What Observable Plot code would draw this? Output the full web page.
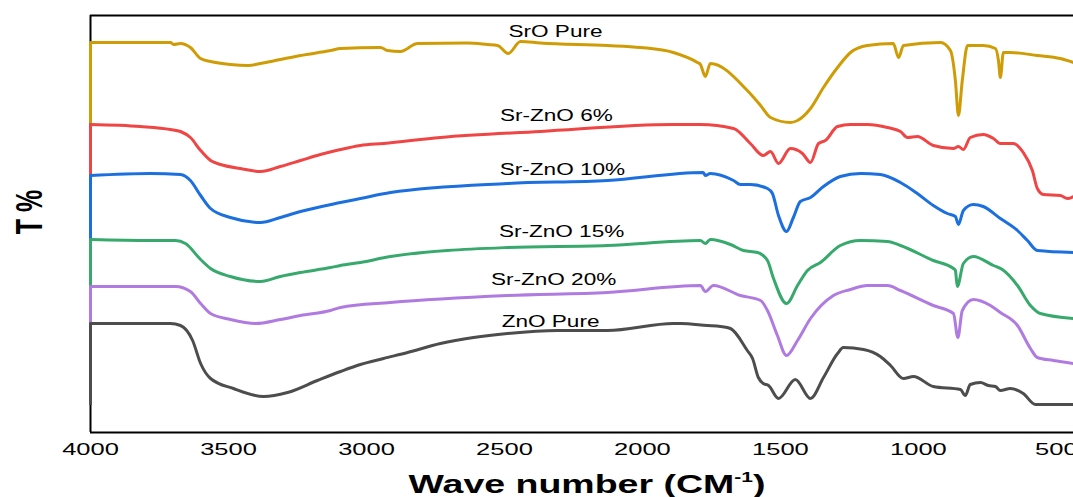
<!DOCTYPE html>
<html><head><meta charset="utf-8">
<script src="https://cdn.jsdelivr.net/npm/d3@7"></script>
<script src="https://cdn.jsdelivr.net/npm/@observablehq/plot@0.6"></script>
<style>body{margin:0;background:#fff;} #chart{width:1073px;height:497px;overflow:hidden;}</style>
</head><body><div id="chart"></div>
<script>
const seriesNames = ["SrO Pure", "Sr-ZnO 6%", "Sr-ZnO 10%", "Sr-ZnO 15%", "Sr-ZnO 20%", "ZnO Pure"];
const colors = ["#CF9C06", "#EF4545", "#1C6FDE", "#37A96C", "#B07BE0", "#4D4D4D"];
const xTicks = [4000, 3500, 3000, 2500, 2000, 1500, 1000, 500];

const sroWn = [4000,3710,3699,3674,3638,3601,3565,3493,3428,3384,3312,3239,3130,3094,2949,2924,2877,2815,2634,2562,2525,2486,2442,2370,2127,2007,1888,1801,1790,1772,1754,1620,1572,1536,1464,1438,1391,1344,1293,1246,1185,1091,1072,1054,920,884,866,855,841,822,765,721,710,703,692,667,569,486,438];
const sroT  = [390,390,388,389,385,374,371,368,367,369,373,377,382,384,385,382,381,389,389.5,388,387,379,391,389.5,387,385,380,370,368,356,369,342,327,315,310,312,324,345,365,380,387,389,375,387,390,382,352,317,352,387,387,384,372,355,380,380,377,374,370];

const sr6Wn = [4000,3819,3710,3674,3638,3601,3565,3529,3457,3384,3312,3239,3167,3094,3022,2938,2732,2370,1888,1790,1670,1609,1562,1536,1507,1464,1420,1391,1362,1337,1293,1246,1185,1112,1065,1040,1004,946,873,855,837,812,765,728,703,656,620,587,569,547,486,460,438];
const sr6T  = [308,306,303,301,295,282,272,268,264,261,266,272,278,283,287,289,295,301,308,308,304,289,277,281,269,284,279,270,289,292,306,308,308,305,301,295,296,287,284,286,283,295,298,294,289,289,280,262,244,238,237,234,236];

const sr10Wn = [4000,3783,3674,3638,3601,3565,3493,3384,3312,3239,3094,3022,2913,2489,2127,1780,1772,1754,1670,1645,1609,1547,1529,1507,1478,1453,1428,1391,1344,1283,1210,1138,1065,1004,946,895,866,855,837,801,765,703,641,605,569,438];
const sr10T  = [257,259,258,252,237,224,215,210,215,221,230,234,240,249,252,260,257,259,252,248,248,244,239,217,201,215,231,235,246,256,259,258,250,239,227,219,216,208,222,228,226,214,202,192,182,180];

const sr15Wn = [4000,3783,3692,3656,3601,3565,3493,3384,3312,3239,3130,3094,3022,2913,2489,2127,1790,1772,1754,1681,1634,1583,1547,1525,1478,1438,1402,1355,1283,1210,1112,1065,946,873,866,859,837,801,728,696,641,594,558,438];
const sr15T  = [193,192,192,189,173,164,156,151,156,160,165,167,170,176,185,187,192,189,193,188,182,180,172,154,129,147,162,170,187,192,191,187,172,164,162,146,169,176,167,163,147,127,119,114];

const sr20Wn = [4000,3783,3692,3638,3601,3565,3493,3402,3312,3239,3130,3094,2913,2489,2127,1790,1772,1743,1645,1572,1547,1511,1478,1438,1391,1308,1246,1185,1112,1065,946,873,857,841,801,739,703,641,594,569,511,438];
const sr20T  = [146,146,146,141,129,119,113,109,113,117,122,125,130,137,140,147,141,147,137,132,122,97,77,92,114,137,143,147,147,142,127,119,95,122,133,127,120,107,84,75,72,69];

const znoWn = [4000,3783,3710,3674,3630,3601,3565,3482,3373,3286,3178,3094,3022,2938,2851,2732,2612,2489,2308,2127,1888,1862,1765,1717,1681,1620,1601,1580,1562,1543,1507,1446,1391,1344,1293,1272,1199,1138,1101,1054,1018,946,848,830,812,775,747,721,703,667,620,576,438];
const znoT  = [109,109,109,107,92,69,54,44,36,40,52,61,68,74,80,89,95,99,102,102,109,109,107,106,104,82,74,55,49,47,34,53,34,55,79,85,83,76,67,54,56,46,43,37,48,50,47,46,42,44,39,28,28];

// value at the very first (4000 cm-1) reading where each trace starts from below
const startLow = [309, 227, 176, 112, 65, 27];

const labelWn = [2315, 2312, 2290, 2293, 2322, 2333];
const labelT  = [401, 317, 263, 201, 153, 111];

const wnArrays = [sroWn, sr6Wn, sr10Wn, sr15Wn, sr20Wn, znoWn];
const tArrays  = [sroT, sr6T, sr10T, sr15T, sr20T, znoT];

const rows = seriesNames.map((name, i) => wnArrays[i].map((w, j) => ({name, wn: w, t: tArrays[i][j]})));
const starts = seriesNames.map((name, i) => ({name, wn: wnArrays[i][0], t1: startLow[i], t2: tArrays[i][0]}));
const labels = seriesNames.map((name, i) => ({name, wn: labelWn[i], t: labelT[i]}));

const seriesMarks = seriesNames.flatMap((name, i) => [
  Plot.ruleX([starts[i]], {x: "wn", y1: "t1", y2: "t2", stroke: colors[i], strokeWidth: 3}),
  Plot.line(rows[i], {x: "wn", y: "t", stroke: colors[i], strokeWidth: 3, curve: "monotone-x"})
]);

const font = '"Liberation Sans", Arial, Helvetica, sans-serif';
const plot = Plot.plot({
  width: 1073, height: 497,
  marginLeft: 90, marginRight: 0, marginTop: 15, marginBottom: 65,
  style: {fontFamily: font, fontSize: "17px", color: "#000", background: "#fff"},
  x: {domain: [4000, 438], ticks: xTicks, tickSize: 0, tickPadding: 10, tickFormat: d3.format("d"), label: null},
  y: {domain: [0, 417], axis: null},
  marks: [
    Plot.ruleY([0], {stroke: "#000", strokeWidth: 2}),
    Plot.ruleY([417], {stroke: "#000", strokeWidth: 2}),
    Plot.ruleX([4000], {stroke: "#000", strokeWidth: 2}),
    ...seriesMarks,
    Plot.text(labels, {x: "wn", y: "t", text: "name", fontSize: 16, fill: "#000", textAnchor: "middle", lineAnchor: "middle"})
  ]
});
document.getElementById("chart").append(plot);

// horizontally stretched lettering like the reference
plot.querySelectorAll("text").forEach(t => {
  const s = t.textContent.trim();
  const len = t.getComputedTextLength();
  if (!len) return;
  const f = /^\d+$/.test(s) ? 1.5 : 1.41;
  t.setAttribute("textLength", (len * f).toFixed(1));
  t.setAttribute("lengthAdjust", "spacingAndGlyphs");
});

const svg = d3.select(plot);
const xl = svg.append("text")
  .attr("transform", "translate(587,493) scale(1.5,1)")
  .attr("text-anchor", "middle")
  .attr("font-family", font).attr("font-weight", "bold").attr("font-size", 25).attr("fill", "#000");
xl.append("tspan").text("Wave number (CM");
xl.append("tspan").attr("font-size", 14).attr("dy", -11).text("-1");
xl.append("tspan").attr("dy", 11).text(")");

svg.append("text")
  .attr("transform", "translate(42,212) rotate(-90) scale(1,1.5)")
  .attr("text-anchor", "middle")
  .attr("font-family", font).attr("font-weight", "bold").attr("font-size", 25).attr("fill", "#000")
  .text("T %");
</script>
</body></html>
